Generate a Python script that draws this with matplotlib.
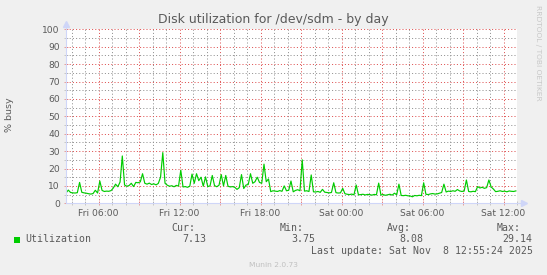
import matplotlib
matplotlib.use("Agg")
import matplotlib.pyplot as plt
from matplotlib.ticker import MultipleLocator, FuncFormatter
from matplotlib.patches import Rectangle
import numpy as np

W, H = 547, 275

# Disk utilization (% busy) sampled every 10 minutes, Fri 03:35 .. Sat 12:55
start_hour = 3 + 35 / 60          # hours since Fri 00:00
step_hours = 10 / 60
util = [
    # Fri 03:35 - 03:55
    6.0, 7.6, 6.2,
    # Fri 04
    6.0, 5.9, 6.1, 12.0, 6.3, 6.0,
    # Fri 05
    5.8, 5.5, 5.3, 5.6, 7.5, 5.9,
    # Fri 06
    12.8, 7.4, 6.8, 7.0, 6.9, 7.3,
    # Fri 07
    8.8, 11.0, 9.5, 12.2, 27.2, 10.5,
    # Fri 08
    9.8, 10.2, 11.5, 9.6, 12.0, 11.8,
    # Fri 09
    12.3, 17.0, 11.5, 11.0, 11.6, 10.8,
    # Fri 10
    11.2, 10.6, 11.4, 15.0, 29.14, 11.5,
    # Fri 11
    10.4, 9.8, 10.1, 9.5, 10.3, 9.9,
    # Fri 12
    19.0, 9.4, 9.6, 9.2, 9.8, 16.8,
    # Fri 13
    11.5, 17.0, 13.0, 15.0, 9.8, 15.2,
    # Fri 14
    9.6, 10.0, 16.0, 10.2, 9.5, 10.4,
    # Fri 15
    16.5, 10.0, 16.0, 9.8, 9.4, 9.6,
    # Fri 16
    9.2, 8.0, 9.0, 16.5, 8.5, 10.5,
    # Fri 17
    10.8, 17.0, 11.5, 12.4, 15.0, 12.0,
    # Fri 18
    11.5, 22.5, 12.4, 14.0, 6.7, 7.2,
    # Fri 19
    7.0, 6.8, 7.3, 6.9, 10.0, 7.2,
    # Fri 20
    7.5, 12.8, 6.6, 7.4, 7.8, 7.2,
    # Fri 21
    25.0, 7.0, 7.2, 6.8, 16.3, 6.6,
    # Fri 22
    6.5, 6.8, 6.3, 8.0, 6.4, 6.2,
    # Fri 23
    6.0, 6.2, 11.8, 6.1, 5.9, 6.0,
    # Sat 00
    8.6, 5.5, 5.2, 5.0, 5.3, 4.9,
    # Sat 01
    10.5, 4.9, 5.0, 5.2, 4.8, 5.1,
    # Sat 02
    5.0, 4.7, 5.1, 4.9, 11.6, 4.8,
    # Sat 03
    5.0, 4.6, 4.9, 5.2, 4.7, 5.8,
    # Sat 04
    4.9, 11.0, 4.5, 4.4, 4.6, 4.3,
    # Sat 05
    4.2, 3.75, 4.5, 4.3, 4.6, 4.4,
    # Sat 06
    11.8, 5.2, 5.0, 5.4, 5.6, 5.3,
    # Sat 07
    5.4, 5.8, 6.2, 11.0, 6.5, 7.0,
    # Sat 08
    6.8, 7.2, 6.9, 7.9, 7.1, 6.8,
    # Sat 09
    7.0, 13.4, 6.8, 6.6, 6.9, 6.7,
    # Sat 10
    9.6, 8.8, 9.2, 8.6, 9.0, 13.4,
    # Sat 11
    9.4, 8.2, 6.7, 6.9, 7.2, 6.8,
    # Sat 12
    7.0, 6.6, 7.1, 6.9, 6.8, 7.13,
]

tick_hours = [6, 12, 18, 24, 30, 36]
tick_labels = ["Fri 06:00", "Fri 12:00", "Fri 18:00",
               "Sat 00:00", "Sat 06:00", "Sat 12:00"]

legend_header = ["Cur:", "Min:", "Avg:", "Max:"]
legend_values = ["7.13", "3.75", "8.08", "29.14"]

x_range = (3.54, 37.0)
y_range = (0, 100)

BACK = "#f0f0f0"
FONT = "#5a5a5a"
AXIS = "#cfd6f8"
GRID = (0.56, 0.56, 0.56, 0.42)
MGRID = (0.87, 0.31, 0.31, 0.50)
LINE = "#00cc00"


def fx(px):
    return px / W


def fy(py):
    return 1 - py / H


fig = plt.figure(figsize=(W / 100, H / 100), dpi=100, facecolor=BACK)
left, right, top, bottom = 65.5, 517.0, 29.3, 203.3
ax = fig.add_axes([fx(left), fy(bottom), (right - left) / W, (bottom - top) / H])
ax.set_facecolor("white")

hours = start_hour + step_hours * np.arange(len(util))
ax.plot(hours, util, color=LINE, linewidth=0.85, zorder=3)

ax.set_xlim(*x_range)
ax.set_ylim(*y_range)

ax.xaxis.set_major_locator(MultipleLocator(3))
ax.xaxis.set_minor_locator(MultipleLocator(1))
labels_by_hour = dict(zip(tick_hours, tick_labels))
ax.xaxis.set_major_formatter(
    FuncFormatter(lambda v, p: labels_by_hour.get(int(round(v)), "")))
ax.yaxis.set_major_locator(MultipleLocator(10))
ax.yaxis.set_minor_locator(MultipleLocator(5))

dots = (0, (1, 2.2))
ax.grid(which="major", color=MGRID, linestyle=dots, linewidth=0.72)
ax.grid(which="minor", color=GRID, linestyle=dots, linewidth=0.72)
ax.set_axisbelow(True)

for s in ax.spines.values():
    s.set_visible(False)

ax.tick_params(which="major", colors=MGRID, direction="inout", length=3,
               width=0.72, labelcolor=FONT, labelsize=6.6)
ax.tick_params(which="minor", colors=GRID, direction="inout", length=3,
               width=0.72)
ax.tick_params(axis="x", pad=2.5)
ax.tick_params(axis="y", pad=2.5)

# axis lines with arrow heads
ax.plot([0, 0], [0, 1.03], transform=ax.transAxes, color=AXIS,
        linewidth=0.8, clip_on=False, zorder=4)
ax.plot([0, 1.015], [0, 0], transform=ax.transAxes, color=AXIS,
        linewidth=0.8, clip_on=False, zorder=4)
ax.plot([0], [1.03], marker="^", markersize=4, color=AXIS,
        transform=ax.transAxes, clip_on=False, zorder=4)
ax.plot([1.015], [0], marker=">", markersize=4, color=AXIS,
        transform=ax.transAxes, clip_on=False, zorder=4)

fig.text(fx(273.4), fy(19.5), "Disk utilization for /dev/sdm - by day",
         ha="center", va="center", fontsize=9, color=FONT)
fig.text(fx(10), fy(115), "% busy", rotation=90, ha="center", va="center",
         fontsize=6.8, color=FONT)
fig.text(fx(538.3), fy(53), "RRDTOOL / TOBI OETIKER", rotation=270,
         ha="center", va="center", fontsize=5.4, color="#c8c8c8")

mono = "DejaVu Sans Mono"
fig.patches.append(Rectangle((fx(13.5), fy(242.5)), 6 / W, 6 / H,
                             transform=fig.transFigure, facecolor=LINE,
                             edgecolor="none"))
fig.text(fx(25.5), fy(239.5), "Utilization", family=mono, fontsize=7.14,
         color=FONT, ha="left", va="center")

header_x = [171.7, 279.3, 386.7, 496.7]
value_right = [206.7, 315.0, 423.3, 532.7]
for hx, h in zip(header_x, legend_header):
    fig.text(fx(hx), fy(227.7), h, family=mono, fontsize=7.14, color=FONT,
             ha="left", va="center")
for vx, v in zip(value_right, legend_values):
    fig.text(fx(vx), fy(239.3), v, family=mono, fontsize=7.14, color=FONT,
             ha="right", va="center")
fig.text(fx(532.7), fy(251.3), "Last update: Sat Nov  8 12:55:24 2025",
         family=mono, fontsize=7.14, color=FONT, ha="right", va="center")
fig.text(fx(273), fy(264.7), "Munin 2.0.73", fontsize=5.4, color="#c0c0c0",
         ha="center", va="center")

fig.savefig("out.png", dpi=100, facecolor=BACK)
